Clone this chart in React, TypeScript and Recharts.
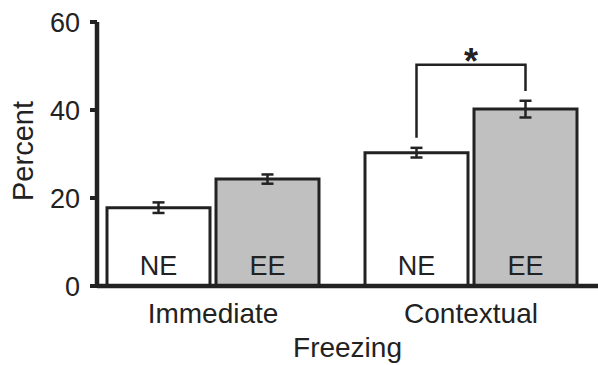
import { BarChart, Bar, XAxis, YAxis, ErrorBar, LabelList, Label } from "recharts";

const categories = ["Immediate", "Contextual"];
const neValues = [17.8, 30.3];
const neErrors = [1.2, 1.1];
const eeValues = [24.3, 40.2];
const eeErrors = [1.05, 1.9];
const yTicks = [0, 20, 40, 60];
// significance bracket over Contextual NE vs EE (percent units)
const bracketTop = 50.3;
const bracketFromNe = 33.7;
const bracketFromEe = 44.3;

const data = categories.map((name, i) => ({
  name,
  ne: neValues[i],
  neErr: neErrors[i],
  ee: eeValues[i],
  eeErr: eeErrors[i],
}));

const INK = "#222";
const FONT = "'Liberation Sans', Arial, sans-serif";
const BAR_GAP = 6;

const groupText = (label: string) => (props: any) => {
  const { x, y, width, height } = props;
  return (
    <text x={x + width / 2} y={y + height - 11} textAnchor="middle" fontSize={27} fill={INK} fontFamily={FONT}>
      {label}
    </text>
  );
};

const neLabel = (props: any) => {
  const { x, y, width, height, value, index } = props;
  const base = y + height;
  const k = height / value; // px per percent
  const items = [<g key="t">{groupText("NE")(props)}</g>];
  if (index === 1) {
    const x1 = x + width / 2;
    const x2 = x + width + BAR_GAP + width / 2;
    const yTop = base - bracketTop * k;
    items.push(
      <path
        key="br"
        d={`M${x1},${base - bracketFromNe * k} V${yTop} H${x2} V${base - bracketFromEe * k}`}
        fill="none"
        stroke={INK}
        strokeWidth={2.5}
      />,
      <text key="star" x={(x1 + x2) / 2} y={yTop + 9} textAnchor="middle" fontSize={36} fontWeight="bold" fill={INK} fontFamily={FONT}>
        *
      </text>
    );
  }
  return <g>{items}</g>;
};

export default function App() {
  return (
    <div style={{ position: "absolute", left: 0, top: 0, background: "#fff" }}>
      <BarChart
        width={598}
        height={365}
        data={data}
        margin={{ top: 22, right: 0, left: 0, bottom: 0 }}
        barSize={103}
        barGap={BAR_GAP}
      >
        <YAxis
          width={97}
          domain={[0, 60]}
          ticks={yTicks}
          interval={0}
          axisLine={{ stroke: INK, strokeWidth: 4.5 }}
          tickLine={{ stroke: INK, strokeWidth: 4 }}
          tickSize={7}
          tickMargin={10}
          tick={{ fontSize: 27, fill: INK, fontFamily: FONT }}
        >
          <Label
            content={() => (
              <text
                x={33}
                y={151}
                transform="rotate(-90, 33, 151)"
                textAnchor="middle"
                fontSize={29}
                fill={INK}
                fontFamily={FONT}
              >
                Percent
              </text>
            )}
          />
        </YAxis>
        <XAxis
          dataKey="name"
          height={79}
          padding={{ left: -13, right: -2 }}
          axisLine={{ stroke: INK, strokeWidth: 4.5 }}
          tickLine={false}
          tickSize={0}
          tickMargin={17}
          tick={{ fontSize: 28, fill: INK, fontFamily: FONT }}
        >
          <Label value="Freezing" position="insideBottom" offset={8} fontSize={28} fill={INK} fontFamily={FONT} />
        </XAxis>
        <Bar dataKey="ne" fill="#ffffff" stroke={INK} strokeWidth={3} isAnimationActive={false}>
          <ErrorBar dataKey="neErr" width={6} stroke={INK} strokeWidth={2.5} />
          <LabelList dataKey="ne" content={neLabel} />
        </Bar>
        <Bar dataKey="ee" fill="#c0c0c0" stroke={INK} strokeWidth={3} isAnimationActive={false}>
          <ErrorBar dataKey="eeErr" width={6} stroke={INK} strokeWidth={2.5} />
          <LabelList dataKey="ee" content={groupText("EE")} />
        </Bar>
      </BarChart>
    </div>
  );
}
